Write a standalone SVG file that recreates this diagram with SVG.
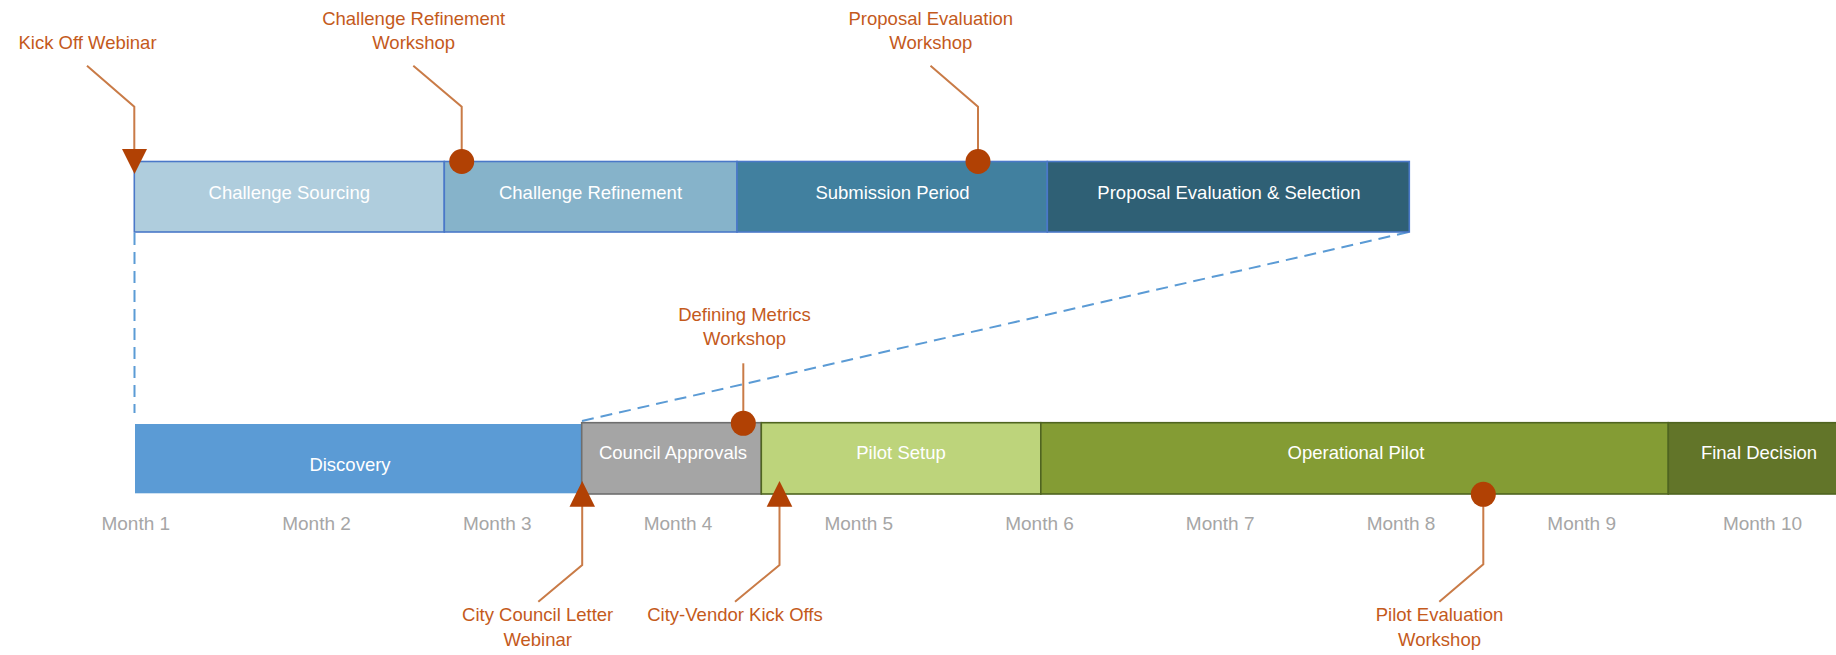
<svg xmlns="http://www.w3.org/2000/svg" width="1836" height="655" viewBox="0 0 1836 655">
  <style>
    .lbl { font-family: "Liberation Sans", Arial, sans-serif; font-size: 18.5px; fill: #ffffff; text-anchor: middle; }
    .ms { font-family: "Liberation Sans", Arial, sans-serif; font-size: 18.5px; fill: #c45a1c; text-anchor: middle; }
    .month { font-family: "Liberation Sans", Arial, sans-serif; font-size: 19px; fill: #a6a6a6; text-anchor: middle; }
    .topseg { stroke: #4a78c8; stroke-width: 1.6; }
    .grey { fill: #a5a5a5; stroke: #6e6e6e; stroke-width: 1.6; }
    .green { stroke: #4f6420; stroke-width: 1.6; }
    .leader { fill: none; stroke: #c97b47; stroke-width: 2; }
    .mark { fill: #b14104; }
    .zoomline { fill: none; stroke: #5b9bd5; stroke-width: 2; stroke-dasharray: 12 7; }
  </style>
  <rect width="1836" height="655" fill="#ffffff"/>

  <!-- zoom guides between the two timelines -->
  <g id="connectors">
    <path class="zoomline" d="M134.5 233 V413"/>
    <path class="zoomline" d="M582 421 L1409 232"/>
    <path d="M576 424 V493" fill="none" stroke="#ffffff" stroke-width="1.6" stroke-dasharray="8 5"/>
    <!-- milestone leaders -->
    <polyline class="leader" points="87,65.7 134.3,106.7 134.3,152"/>
    <polyline class="leader" points="413.3,65.7 461.7,106.7 461.7,152"/>
    <polyline class="leader" points="930.5,65.7 978,106.7 978,152"/>
    <polyline class="leader" points="743.3,363.3 743.3,414"/>
    <polyline class="leader" points="582.2,505 582.2,565 538.3,601.7"/>
    <polyline class="leader" points="779.5,505 779.5,565 735,601.7"/>
    <polyline class="leader" points="1483.3,504 1483.3,564.3 1439.3,601.7"/>
  </g>

  <!-- upper timeline: solicitation phases -->
  <g id="challenge-sourcing">
    <rect class="topseg" x="134.3" y="161.5" width="310" height="70.5" fill="#afcddd"/>
    <text class="lbl" x="289.3" y="199">Challenge Sourcing</text>
  </g>
  <g id="challenge-refinement">
    <rect class="topseg" x="444.3" y="161.5" width="292.7" height="70.5" fill="#86b3ca"/>
    <text class="lbl" x="590.5" y="199">Challenge Refinement</text>
  </g>
  <g id="submission-period">
    <rect class="topseg" x="737" y="161.5" width="310.3" height="70.5" fill="#41809f"/>
    <text class="lbl" x="892.5" y="199">Submission Period</text>
  </g>
  <g id="proposal-evaluation">
    <rect class="topseg" x="1047.3" y="161.5" width="362" height="70.5" fill="#2f6075"/>
    <text class="lbl" x="1229" y="199">Proposal Evaluation &amp; Selection</text>
  </g>

  <!-- lower timeline: overall programme -->
  <g id="discovery">
    <rect x="135" y="424" width="447" height="69.3" fill="#5b9bd5"/>
    <text class="lbl" x="350" y="471">Discovery</text>
  </g>
  <g id="council-approvals">
    <rect class="grey" x="581.7" y="422.7" width="179.6" height="71.3"/>
    <text class="lbl" x="673" y="458.5">Council Approvals</text>
  </g>
  <g id="pilot-setup">
    <rect class="green" x="761.3" y="422.7" width="279.5" height="71.3" fill="#bdd47b"/>
    <text class="lbl" x="901" y="458.5">Pilot Setup</text>
  </g>
  <g id="operational-pilot">
    <rect class="green" x="1040.8" y="422.7" width="627.5" height="71.3" fill="#849c34"/>
    <text class="lbl" x="1356" y="458.5">Operational Pilot</text>
  </g>
  <g id="final-decision">
    <rect class="green" x="1668.3" y="422.7" width="172" height="71.3" fill="#627529"/>
    <text class="lbl" x="1759" y="458.5">Final Decision</text>
  </g>

  <!-- month axis -->
  <g id="months">
    <text class="month" x="135.8" y="530">Month 1</text>
    <text class="month" x="316.5" y="530">Month 2</text>
    <text class="month" x="497.3" y="530">Month 3</text>
    <text class="month" x="678" y="530">Month 4</text>
    <text class="month" x="858.8" y="530">Month 5</text>
    <text class="month" x="1039.5" y="530">Month 6</text>
    <text class="month" x="1220.2" y="530">Month 7</text>
    <text class="month" x="1401" y="530">Month 8</text>
    <text class="month" x="1581.7" y="530">Month 9</text>
    <text class="month" x="1762.5" y="530">Month 10</text>
  </g>

  <!-- milestones -->
  <g id="kick-off-webinar">
    <polygon class="mark" points="122,149 147,149 134.5,174"/>
    <text class="ms" x="87.5" y="48.5">Kick Off Webinar</text>
  </g>
  <g id="challenge-refinement-workshop">
    <circle class="mark" cx="461.7" cy="161.5" r="12.5"/>
    <text class="ms" x="413.7" y="25">Challenge Refinement</text>
    <text class="ms" x="413.7" y="48.5">Workshop</text>
  </g>
  <g id="proposal-evaluation-workshop">
    <circle class="mark" cx="978" cy="161.5" r="12.5"/>
    <text class="ms" x="930.8" y="25">Proposal Evaluation</text>
    <text class="ms" x="930.8" y="48.5">Workshop</text>
  </g>
  <g id="defining-metrics-workshop">
    <circle class="mark" cx="743.3" cy="423.3" r="12.5"/>
    <text class="ms" x="744.5" y="320.7">Defining Metrics</text>
    <text class="ms" x="744.5" y="345">Workshop</text>
  </g>
  <g id="city-council-letter-webinar">
    <polygon class="mark" points="569.5,506.7 595,506.7 582.2,481"/>
    <text class="ms" x="537.7" y="620.5">City Council Letter</text>
    <text class="ms" x="537.7" y="646">Webinar</text>
  </g>
  <g id="city-vendor-kick-offs">
    <polygon class="mark" points="766.7,506.7 792.3,506.7 779.5,481"/>
    <text class="ms" x="735" y="620.5">City-Vendor Kick Offs</text>
  </g>
  <g id="pilot-evaluation-workshop">
    <circle class="mark" cx="1483.3" cy="494.3" r="12.5"/>
    <text class="ms" x="1439.5" y="620.5">Pilot Evaluation</text>
    <text class="ms" x="1439.5" y="646">Workshop</text>
  </g>
</svg>
